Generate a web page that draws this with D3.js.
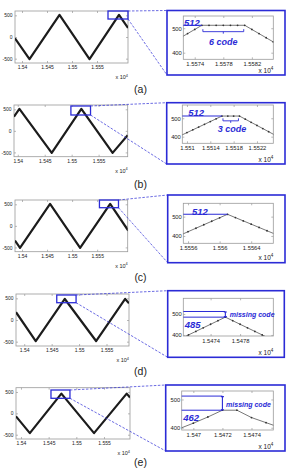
<!DOCTYPE html>
<html lang="en">
<head>
<meta charset="utf-8">
<title>triangle wave peaks</title>
<script src="https://d3js.org/d3.v7.min.js"></script>
<style>
  body { margin: 0; padding: 0; background: #fff; }
  svg text { font-family: "Liberation Sans", Arial, sans-serif; }
</style>
</head>
<body>
<svg id="chart" width="289" height="468"></svg>
<script>

// x values are sample numbers, labels show them x 10^4
var panelLabels = ["(a)", "(b)", "(c)", "(d)", "(e)"];

// corners of the big triangle waves [sample, code]
var waveA = [[15386, -30], [15415, -512], [15475, 512], [15535, -512], [15594, 512], [15612, 210]];
var waveB = [[15393, 330], [15403, 512], [15463, -512], [15518, 512], [15576, -512], [15604, -100]];
var waveC = [[15386, -342], [15396, -512], [15456, 512], [15516, -512], [15576, 512], [15612, -110]];
var waveD = [[15385, 180], [15421, -485], [15474, 485], [15531, -485], [15584, 485], [15591, 385]];
var waveE = [[15391, -70], [15416, -462], [15473, 462], [15532, -462], [15591, 462], [15597, 370]];

var mainTicksX = [15400, 15450, 15500, 15550];
var mainTickLabels = ["1.54", "1.545", "1.55", "1.555"];
var mainTicksY = [-500, 0, 500];

// zoomed samples around one peak
var zoomAX = [15572, 15573, 15574, 15575, 15576, 15577, 15578, 15579, 15580, 15581, 15582, 15583, 15584, 15585];
var zoomAY = [461, 478, 495, 512, 512, 512, 512, 512, 512, 512, 495, 478, 461, 444];
var zoomBX = [15509, 15510, 15511, 15512, 15513, 15514, 15515, 15516, 15517, 15518, 15519, 15520, 15521, 15522, 15523, 15524, 15525];
var zoomBY = [407, 422, 437, 452, 467, 482, 497, 512, 512, 512, 512, 495, 478, 461, 444, 427, 410];
var zoomCX = [15555, 15556, 15557, 15558, 15559, 15560, 15561, 15562, 15563, 15564, 15565, 15566, 15567];
var zoomCY = [404, 422, 440, 458, 476, 494, 512, 495, 478, 461, 444, 427, 410];
var zoomDX = [15470, 15471, 15472, 15473, 15474, 15475, 15476, 15477, 15478, 15479, 15480, 15481, 15482, 15483];
var zoomDY = [383, 400, 417, 434, 451, 468, 485, 468, 451, 434, 417, 400, 383, 366];
var zoomEX = [15469, 15470, 15471, 15472, 15473, 15474, 15475, 15476];
var zoomEY = [396, 416, 438, 462, 462, 436, 418, 400];

var zoomTicksA = [15574, 15578, 15582];
var zoomTickLabelsA = ["1.5574", "1.5578", "1.5582"];
var zoomTicksB = [15510, 15514, 15518, 15522];
var zoomTickLabelsB = ["1.551", "1.5514", "1.5518", "1.5522"];
var zoomTicksC = [15556, 15560, 15564];
var zoomTickLabelsC = ["1.5556", "1.556", "1.5564"];
var zoomTicksD = [15474, 15478];
var zoomTickLabelsD = ["1.5474", "1.5478"];
var zoomTicksE = [15470, 15472, 15474];
var zoomTickLabelsE = ["1.547", "1.5472", "1.5474"];
var zoomTicksY = [400, 500];

// annotation values
var topCode = 512;
var peakCodes = [512, 512, 512, 485, 462];
var flatRuns = [[15575, 15581], [15516, 15519]];
var flatNotes = ["6 code", "3 code"];

var blue = "#2b2bd6";
var font = "'Liberation Sans', Arial, sans-serif";

// geometry of every row (pixels) and axis ranges
var layout = [
  { main: [15, 128, 11, 63], mainDom: [15386, 15612], wave: waveA, box: [15572, 15612, 415, 600],
    frame: [167, 10.5, 285, 75], zoom: [183.3, 273.3, 16, 59.3], zDomX: [15572.4, 15585], zDomY: [373, 550],
    zx: zoomAX, zy: zoomAY, zt: zoomTicksA, ztl: zoomTickLabelsA, labelY: 93,
    numAt: [15572.5, 512], flat: 0, noteAt: [15578, 430], bracketAt: 486 },
  { main: [14, 127.7, 105, 156.7], mainDom: [15393, 15604], wave: waveB, box: [15498.6, 15535, 368, 577],
    frame: [166.7, 102.7, 285, 164], zoom: [182.3, 273.3, 105, 143.3], zDomX: [15509.2, 15524.8], zDomY: [364, 572],
    zx: zoomBX, zy: zoomBY, zt: zoomTicksB, ztl: zoomTickLabelsB, labelY: 188,
    numAt: [15510.2, 512], flat: 1, noteAt: [15517.7, 423], bracketAt: 486 },
  { main: [15, 127.7, 200, 251.7], mainDom: [15386, 15611], wave: waveC, box: [15554.6, 15592.6, 421, 600],
    frame: [167.7, 195, 285, 262.7], zoom: [183.3, 273.3, 203.3, 243.3], zDomX: [15555.4, 15566.8], zDomY: [362, 569],
    zx: zoomCX, zy: zoomCY, zt: zoomTicksC, ztl: zoomTickLabelsC, labelY: 281,
    numAt: [15556.5, 512] },
  { main: [16, 129, 294, 346], mainDom: [15385, 15591], wave: waveD, box: [15459.3, 15494.5, 399, 577],
    frame: [167.7, 290.7, 284.3, 357.3], zoom: [183.3, 273.3, 298.3, 336], zDomX: [15470.3, 15482.5], zDomY: [395, 575],
    zx: zoomDX, zy: zoomDY, zt: zoomTicksD, ztl: zoomTickLabelsD, labelY: 374.5,
    numAt: [15470.5, 433], gapAt: 15476, missAt: [15476.4, 488] },
  { main: [16, 130, 387.7, 439], mainDom: [15391, 15597], wave: waveE, box: [15454.2, 15488.5, 352, 546],
    frame: [165.7, 385, 285, 451], zoom: [181.7, 273.3, 391, 430], zDomX: [15469.2, 15475.5], zDomY: [392, 530],
    zx: zoomEX, zy: zoomEY, zt: zoomTicksE, ztl: zoomTickLabelsE, labelY: 465.5,
    numAt: [15469.3, 424], gapAt: 15472, missAt: [15472.15, 475] }
];

var svg = d3.select("#chart");
var defs = svg.append("defs");

function drawAxes(g, x, y, xt, xl, yt, fs, padX, padY) {
  var xr = x.range(), yr = y.range();
  var bottom = g.append("g").attr("transform", "translate(0," + yr[0] + ")")
    .call(d3.axisBottom(x).tickValues(xt).tickFormat(function(d, i){ return xl[i]; })
      .tickSizeInner(-2).tickSizeOuter(0).tickPadding(padX));
  var top = g.append("g").attr("transform", "translate(0," + yr[1] + ")")
    .call(d3.axisTop(x).tickValues(xt).tickFormat("").tickSizeInner(-2).tickSizeOuter(0));
  var left = g.append("g").attr("transform", "translate(" + xr[0] + ",0)")
    .call(d3.axisLeft(y).tickValues(yt).tickFormat(function(d){ return String(d); })
      .tickSizeInner(-2).tickSizeOuter(0).tickPadding(padY));
  var right = g.append("g").attr("transform", "translate(" + xr[1] + ",0)")
    .call(d3.axisRight(y).tickValues(yt).tickFormat("").tickSizeInner(-2).tickSizeOuter(0));
  [bottom, top, left, right].forEach(function(a){
    a.attr("font-size", fs).attr("font-family", font);
    a.select(".domain").remove();
    a.selectAll("line").attr("stroke", "#888").attr("stroke-width", 0.6);
    a.selectAll("text").attr("fill", "#222");
  });
  g.append("rect")
    .attr("x", xr[0]).attr("y", yr[1])
    .attr("width", xr[1] - xr[0]).attr("height", yr[0] - yr[1])
    .attr("fill", "none").attr("stroke", "#9a9a9a").attr("stroke-width", 0.8);
}

function times10(g, xRight, yBase, fs) {
  var t = g.append("text")
    .attr("x", xRight).attr("y", yBase)
    .attr("text-anchor", "end")
    .attr("font-size", fs).attr("fill", "#222");
  t.append("tspan").text("x 10");
  t.append("tspan").attr("dy", -fs * 0.45).attr("font-size", fs * 0.7).text("4");
}

function clipFor(id, r) {
  defs.append("clipPath").attr("id", id)
    .append("rect").attr("x", r[0]).attr("y", r[2])
    .attr("width", r[1] - r[0]).attr("height", r[3] - r[2]);
}

layout.forEach(function(p, i){
  var g = svg.append("g");

  // main trace
  var mx = d3.scaleLinear().domain(p.mainDom).range([p.main[0], p.main[1]]);
  var my = d3.scaleLinear().domain([-600, 600]).range([p.main[3], p.main[2]]);
  clipFor("mclip" + i, p.main);
  drawAxes(g, mx, my, mainTicksX, mainTickLabels, mainTicksY, 5, 2.5, 2.5);
  var line = d3.line().x(function(d){ return mx(d[0]); }).y(function(d){ return my(d[1]); });
  g.append("path")
    .attr("clip-path", "url(#mclip" + i + ")")
    .attr("d", line(p.wave))
    .attr("fill", "none").attr("stroke", "#1c1c1c")
    .attr("stroke-width", 2.2).attr("stroke-linejoin", "round");
  times10(g, p.main[1], p.main[3] + 16, 5.5);

  // blue box round the peak
  var bx0 = mx(p.box[0]), bx1 = mx(p.box[1]), by0 = my(p.box[3]), by1 = my(p.box[2]);
  g.append("rect")
    .attr("x", bx0).attr("y", by0).attr("width", bx1 - bx0).attr("height", by1 - by0)
    .attr("fill", "none").attr("stroke", blue).attr("stroke-width", 1.3);

  // dashed leaders to the zoom frame
  var f = p.frame;
  [[bx1, by0, f[0], f[1]], [bx1, by1, f[0], f[3]]].forEach(function(s){
    g.append("line")
      .attr("x1", s[0]).attr("y1", s[1]).attr("x2", s[2]).attr("y2", s[3])
      .attr("stroke", blue).attr("stroke-width", 0.7).attr("stroke-dasharray", "2.5,1.5");
  });
  g.append("rect")
    .attr("x", f[0]).attr("y", f[1]).attr("width", f[2] - f[0]).attr("height", f[3] - f[1])
    .attr("fill", "none").attr("stroke", blue).attr("stroke-width", 1.6);

  // zoomed view
  var zx = d3.scaleLinear().domain(p.zDomX).range([p.zoom[0], p.zoom[1]]);
  var zy = d3.scaleLinear().domain(p.zDomY).range([p.zoom[3], p.zoom[2]]);
  clipFor("zclip" + i, p.zoom);
  drawAxes(g, zx, zy, p.zt, p.ztl, zoomTicksY, 5.8, 2.5, 1.5);
  var pts = p.zx.map(function(x, k){ return [x, p.zy[k]]; });
  var zg = g.append("g").attr("clip-path", "url(#zclip" + i + ")");
  zg.append("path")
    .attr("d", d3.line().x(function(d){ return zx(d[0]); }).y(function(d){ return zy(d[1]); })(pts))
    .attr("fill", "none").attr("stroke", "#555").attr("stroke-width", 0.8);
  zg.selectAll("circle").data(pts).enter().append("circle")
    .attr("cx", function(d){ return zx(d[0]); })
    .attr("cy", function(d){ return zy(d[1]); })
    .attr("r", 0.9).attr("fill", "#333");
  times10(g, p.zoom[1], f[3] - 2.5, 6.5);

  var peak = peakCodes[i];
  var left = zx.range()[0];
  var note = g.append("g").attr("fill", blue).attr("font-weight", "bold").attr("font-style", "italic");

  if (p.gapAt === undefined) {
    // level line to the top code and its label
    var xEnd = p.flat !== undefined ? flatRuns[p.flat][0] : p.zx[p.zy.indexOf(peak)];
    g.append("line")
      .attr("x1", left).attr("x2", zx(xEnd))
      .attr("y1", zy(topCode)).attr("y2", zy(topCode))
      .attr("stroke", blue).attr("stroke-width", 1.1);
    note.append("text")
      .attr("x", zx(p.numAt[0])).attr("y", zy(p.numAt[1]) + 0.3)
      .attr("font-size", 9.5).text(String(topCode));
    if (p.flat !== undefined) {
      var run = flatRuns[p.flat];
      var a = zx(run[0]) + 1, b = zx(run[1]) - 1, yb = zy(p.bracketAt), m = (a + b) / 2;
      g.append("path")
        .attr("d", "M" + a + "," + (yb - 2.5) + "V" + yb + "H" + b + "V" + (yb - 2.5) +
                   "M" + m + "," + yb + "V" + (yb + 2))
        .attr("fill", "none").attr("stroke", blue).attr("stroke-width", 0.9);
      note.append("text")
        .attr("x", zx(p.noteAt[0])).attr("y", zy(p.noteAt[1]))
        .attr("text-anchor", "middle").attr("font-size", 9).text(flatNotes[p.flat]);
    }
  } else {
    // missing codes between the reached peak and the top code
    var xg = zx(p.gapAt);
    [topCode, peak].forEach(function(v){
      g.append("line")
        .attr("x1", left).attr("x2", xg)
        .attr("y1", zy(v)).attr("y2", zy(v))
        .attr("stroke", blue).attr("stroke-width", 1);
    });
    var y1 = zy(topCode), y2 = zy(peak);
    g.append("path")
      .attr("d", "M" + xg + "," + y1 + "V" + y2 +
                 "M" + (xg - 1.5) + "," + (y1 + 0.5) + "H" + (xg + 1.5) +
                 "M" + (xg - 1.5) + "," + (y2 - 0.5) + "H" + (xg + 1.5))
      .attr("fill", "none").attr("stroke", blue).attr("stroke-width", 1.1);
    note.append("text")
      .attr("x", zx(p.missAt[0]) + 1.5).attr("y", zy(p.missAt[1]))
      .attr("font-size", 7).text("missing code");
    note.append("text")
      .attr("x", zx(p.numAt[0])).attr("y", zy(p.numAt[1]))
      .attr("font-size", 9.5).text(String(peak));
  }

  // row label
  svg.append("text")
    .attr("x", 140.5).attr("y", p.labelY)
    .attr("text-anchor", "middle")
    .attr("font-size", 10.5).attr("fill", "#222")
    .text(panelLabels[i]);
});

</script>
</body>
</html>
